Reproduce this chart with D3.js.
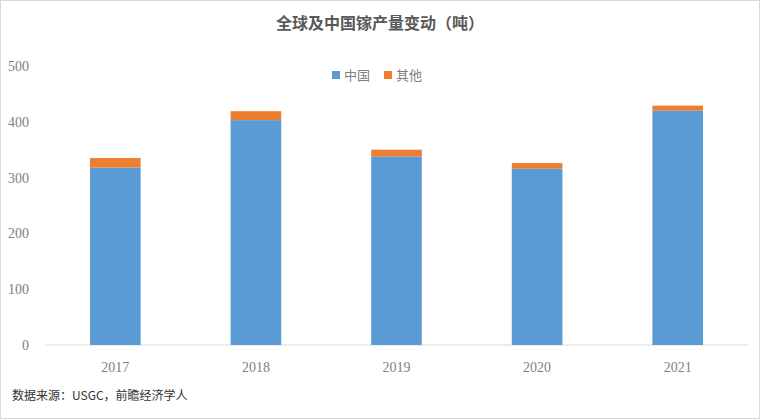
<!DOCTYPE html>
<html><head><meta charset="utf-8">
<script src="https://cdn.jsdelivr.net/npm/d3@7"></script>
<style>body{margin:0;background:#fff}</style>
</head><body>
<script>
const years = ["2017","2018","2019","2020","2021"];
const china = [318, 403, 338, 316, 420];
const others = [17, 16, 12, 10, 9];
const seriesNames = ["中国","其他"];
const yTicks = [0,100,200,300,400,500];

const W=760,H=419;
const svg=d3.select("body").append("svg").attr("width",W).attr("height",H);
svg.append("rect").attr("x",0.5).attr("y",0.5).attr("width",W-1).attr("height",H-1).attr("fill","#fff").attr("stroke","#d9d9d9");

const x=d3.scaleBand().domain(years).range([45,748]).paddingInner(0.64).paddingOuter(0.32);
const y=d3.scaleLinear().domain([0,500]).range([345,66]);
const serif="'Liberation Serif','Times New Roman',serif";
const cjk="'Noto Sans CJK SC',sans-serif";

// axis line
svg.append("line").attr("x1",45).attr("x2",748).attr("y1",y(0)).attr("y2",y(0)).attr("stroke","#d9d9d9");

const data=years.map((yr,i)=>({yr,c:china[i],o:others[i]}));
svg.selectAll(".b").data(data).enter().append("rect")
 .attr("x",d=>x(d.yr)).attr("width",x.bandwidth())
 .attr("y",d=>y(d.c)).attr("height",d=>y(0)-y(d.c)).attr("fill","#5B9BD5");
svg.selectAll(".o").data(data).enter().append("rect")
 .attr("x",d=>x(d.yr)).attr("width",x.bandwidth())
 .attr("y",d=>y(d.c+d.o)).attr("height",d=>y(d.c)-y(d.c+d.o)).attr("fill","#ED7D31");

// y labels
svg.selectAll(".yt").data(yTicks).enter().append("text")
 .attr("x",29).attr("y",d=>y(d)+5).attr("text-anchor","end")
 .attr("font-family",serif).attr("font-size",14).attr("fill","#808080").text(d=>d);
// x labels
svg.selectAll(".xt").data(years).enter().append("text")
 .attr("x",d=>x(d)+x.bandwidth()/2).attr("y",372).attr("text-anchor","middle")
 .attr("font-family",serif).attr("font-size",14).attr("fill","#808080").text(d=>d);

// title
svg.append("text").attr("x",380).attr("y",29).attr("text-anchor","middle")
 .attr("font-family",cjk).attr("font-weight","bold").attr("font-size",16).attr("fill","#595959")
 .text("全球及中国镓产量变动（吨）");

// legend
const lg=[{n:seriesNames[0],c:"#5B9BD5",x:332},{n:seriesNames[1],c:"#ED7D31",x:384}];
lg.forEach(l=>{
 svg.append("rect").attr("x",l.x).attr("y",71).attr("width",8).attr("height",8).attr("fill",l.c);
 svg.append("text").attr("x",l.x+12).attr("y",80).attr("font-family",cjk).attr("font-size",13).attr("fill","#808080").text(l.n);
});

// footer
svg.append("text").attr("x",12).attr("y",400).attr("font-family",cjk).attr("font-size",12).attr("fill","#333")
 .text("数据来源：USGC，前瞻经济学人");
</script>
</body></html>
